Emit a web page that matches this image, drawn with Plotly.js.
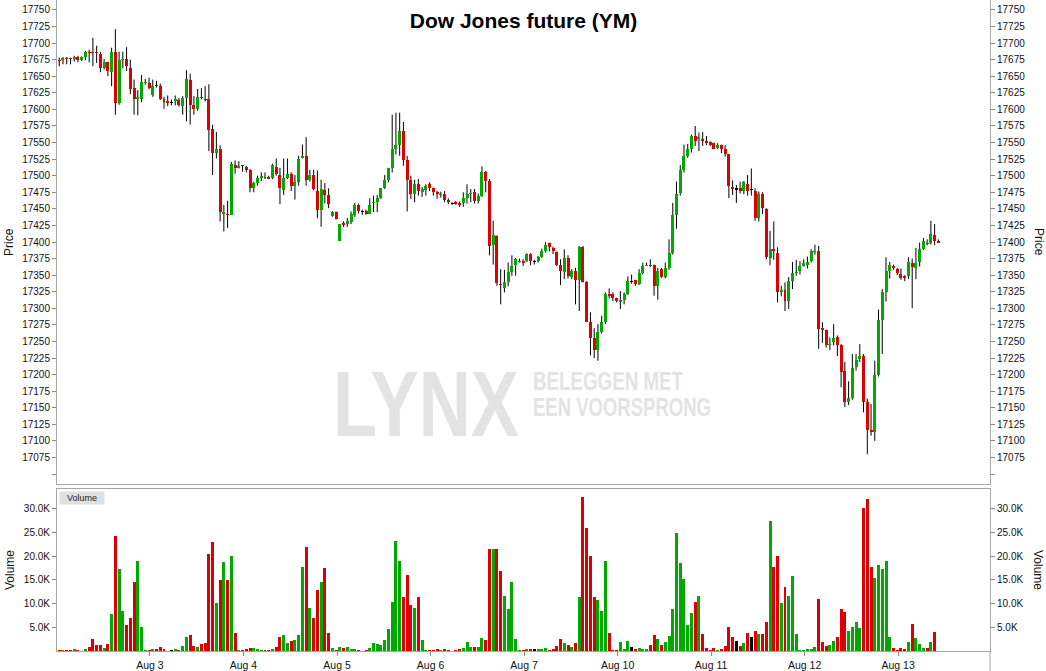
<!DOCTYPE html>
<html><head><meta charset="utf-8">
<script src="https://cdn.plot.ly/plotly-3.0.1.min.js"></script>
<style>html,body{margin:0;padding:0;background:#fff;}#chart{width:1046px;height:671px;}</style>
</head><body><div id="chart"></div>
<script>
// ---- data (hourly bars, index 0..235) ----
const dayLabels = ["Aug 3","Aug 4","Aug 5","Aug 6","Aug 7","Aug 10","Aug 11","Aug 12","Aug 13"];

const openP = [
17675,17675,17677,17677,17676,17679,17674,17679,17687,17687,
17687,17684,17663,17671,17657,17687,17609,17674,17676,17663,
17633,17616,17616,17640,17640,17621,17637,17636,17615,17612,
17611,17613,17614,17605,17617,17645,17607,17601,17619,17616,
17616,17571,17535,17541,17443,17443,17441,17516,17512,17516,
17513,17508,17482,17489,17496,17498,17498,17496,17513,17501,
17479,17496,17502,17485,17491,17527,17530,17493,17501,17477,
17449,17479,17471,17439,17445,17402,17428,17427,17430,17440,
17456,17446,17447,17442,17459,17460,17466,17481,17493,17512,
17541,17547,17568,17523,17493,17472,17487,17476,17479,17487,
17481,17475,17471,17473,17464,17458,17460,17459,17459,17467,
17472,17476,17462,17470,17506,17492,17395,17409,17337,17331,
17339,17355,17365,17370,17371,17372,17382,17370,17372,17378,
17386,17398,17391,17385,17365,17355,17376,17347,17357,17342,
17393,17340,17280,17255,17237,17264,17279,17322,17322,17315,
17310,17312,17321,17340,17342,17336,17354,17364,17366,17365,
17334,17359,17347,17361,17383,17441,17474,17509,17530,17540,
17560,17556,17556,17553,17551,17549,17542,17546,17541,17532,
17483,17480,17481,17477,17487,17479,17477,17436,17472,17450,
17376,17389,17383,17325,17328,17311,17341,17353,17356,17364,
17366,17372,17385,17387,17270,17268,17244,17249,17256,17244,
17205,17159,17164,17212,17224,17228,17158,17117,17114,17199,
17282,17324,17356,17364,17360,17352,17348,17348,17369,17361,
17370,17390,17399,17399,17411,17401];

const highP = [
17678,17679,17679,17678,17681,17681,17680,17688,17690,17708,
17696,17687,17676,17672,17693,17721,17687,17687,17694,17675,
17645,17629,17652,17646,17648,17645,17643,17639,17619,17621,
17615,17621,17617,17620,17659,17654,17620,17631,17632,17635,
17638,17577,17566,17546,17456,17462,17521,17523,17522,17516,
17515,17510,17491,17500,17505,17505,17500,17518,17526,17512,
17526,17526,17505,17501,17530,17547,17558,17509,17509,17508,
17494,17489,17481,17447,17446,17427,17431,17436,17446,17459,
17458,17449,17449,17466,17470,17471,17481,17501,17512,17592,
17595,17595,17581,17530,17500,17494,17495,17483,17487,17490,
17482,17477,17476,17477,17466,17460,17462,17461,17475,17487,
17480,17480,17473,17514,17507,17495,17432,17410,17359,17358,
17369,17380,17376,17375,17374,17383,17383,17373,17379,17390,
17400,17399,17393,17386,17374,17389,17380,17359,17361,17394,
17394,17341,17294,17270,17276,17289,17324,17330,17324,17316,
17326,17324,17348,17351,17343,17359,17369,17369,17374,17366,
17361,17361,17369,17404,17459,17491,17516,17547,17548,17562,
17575,17565,17566,17560,17552,17550,17549,17547,17546,17533,
17493,17486,17491,17492,17501,17511,17481,17476,17475,17451,
17417,17431,17392,17334,17339,17347,17370,17373,17371,17374,
17378,17389,17396,17394,17279,17268,17256,17276,17259,17246,
17219,17190,17231,17231,17246,17231,17164,17156,17221,17298,
17329,17377,17370,17366,17361,17360,17350,17377,17375,17391,
17399,17406,17404,17432,17427,17404];

const lowP = [
17665,17668,17668,17668,17672,17671,17673,17674,17671,17665,
17670,17656,17660,17650,17635,17592,17607,17662,17658,17623,
17592,17591,17611,17637,17630,17619,17633,17614,17601,17605,
17606,17606,17604,17592,17582,17577,17592,17598,17615,17612,
17537,17501,17526,17431,17416,17421,17441,17503,17511,17506,
17505,17475,17475,17485,17492,17495,17495,17495,17500,17457,
17471,17495,17477,17464,17485,17526,17485,17491,17478,17436,
17423,17458,17451,17438,17434,17401,17423,17423,17427,17438,
17443,17441,17441,17442,17445,17445,17465,17480,17490,17505,
17532,17530,17515,17446,17465,17460,17470,17468,17470,17477,
17470,17465,17467,17460,17457,17456,17456,17453,17453,17458,
17460,17458,17458,17468,17475,17380,17366,17334,17306,17324,
17333,17349,17349,17369,17364,17370,17365,17366,17369,17376,
17384,17386,17382,17364,17335,17344,17345,17344,17306,17296,
17339,17279,17229,17225,17221,17262,17276,17315,17311,17309,
17299,17306,17320,17337,17334,17335,17351,17364,17362,17319,
17313,17346,17345,17358,17381,17420,17470,17505,17527,17535,
17545,17537,17545,17546,17545,17540,17540,17534,17529,17466,
17471,17459,17473,17472,17470,17470,17432,17431,17442,17374,
17365,17373,17309,17318,17296,17299,17329,17349,17351,17363,
17360,17369,17381,17239,17248,17241,17237,17244,17228,17181,
17151,17154,17162,17206,17219,17143,17080,17108,17100,17197,
17231,17310,17345,17358,17350,17343,17341,17344,17300,17344,
17363,17388,17395,17396,17395,17399];

const closeP = [
17673,17677,17676,17676,17679,17674,17679,17687,17686,17686,
17686,17662,17672,17658,17687,17609,17675,17676,17665,17631,
17616,17618,17642,17642,17632,17636,17635,17615,17611,17610,
17611,17615,17607,17617,17646,17607,17601,17618,17617,17615,
17569,17535,17541,17445,17445,17441,17518,17512,17515,17514,
17509,17482,17489,17496,17499,17496,17495,17516,17502,17481,
17496,17502,17485,17491,17525,17530,17493,17501,17480,17449,
17480,17471,17458,17445,17435,17427,17425,17431,17442,17456,
17447,17446,17443,17456,17461,17467,17481,17493,17511,17541,
17547,17568,17523,17493,17472,17487,17477,17480,17484,17481,
17476,17472,17473,17464,17460,17458,17457,17456,17467,17472,
17474,17462,17470,17506,17492,17394,17410,17338,17335,17339,
17355,17364,17374,17372,17368,17382,17372,17370,17378,17386,
17396,17393,17386,17366,17356,17376,17348,17357,17342,17393,
17340,17280,17255,17237,17264,17279,17322,17318,17315,17311,
17312,17321,17341,17340,17337,17354,17364,17366,17364,17334,
17356,17347,17361,17383,17441,17473,17509,17529,17541,17560,
17552,17558,17552,17549,17547,17541,17547,17541,17532,17485,
17480,17480,17477,17490,17477,17479,17436,17472,17452,17378,
17389,17386,17324,17327,17311,17341,17354,17355,17364,17368,
17370,17386,17387,17269,17268,17244,17246,17255,17244,17204,
17159,17164,17210,17222,17228,17158,17117,17114,17199,17282,
17325,17356,17366,17361,17354,17346,17345,17370,17363,17368,
17390,17401,17397,17412,17402,17399];

// volume in thousands of contracts
const volumeK = [
0.2,0.2,0.2,0.2,0.4,0.2,0.1,0.4,0.8,2.5,
1.2,1.2,0.6,1.5,7.8,24.2,17.3,8.4,5.5,7.0,
14.6,19.0,5.1,0.2,0.3,0.4,0.4,0.8,0.4,0.1,
0.2,0.4,0.2,1.0,3.0,3.4,1.0,0.8,1.5,1.7,
20.5,23.0,10.1,15.0,18.8,15.0,20.0,3.8,0.3,0.2,
0.4,0.6,0.6,0.4,0.2,0.2,0.2,0.4,0.8,2.9,
3.4,1.6,2.1,2.3,3.4,17.7,22.0,9.0,7.0,12.8,
14.5,17.5,3.8,0.6,0.2,0.8,0.6,0.8,0.4,0.4,
0.2,0.1,0.2,0.6,1.6,1.5,1.2,2.3,4.6,10.3,
23.3,19.0,11.5,16.0,9.8,9.0,11.5,2.4,0.2,0.2,
0.2,0.4,0.3,0.4,0.2,0.1,0.2,0.4,0.6,1.9,
0.9,0.9,0.9,2.7,2.3,21.5,21.5,21.5,16.8,11.6,
8.9,14.5,2.5,0.2,0.2,0.4,0.4,0.4,0.4,0.4,
0.6,0.2,0.4,1.1,2.5,1.7,1.3,0.9,1.7,11.4,
32.6,26.0,20.0,11.4,10.8,8.5,19.1,3.7,0.2,0.2,
1.9,0.4,2.1,0.8,0.4,0.6,0.4,0.4,1.3,3.4,
2.5,1.3,2.0,3.2,8.9,25.0,18.6,15.2,5.4,8.0,
10.4,11.6,3.6,0.6,0.3,0.6,0.2,0.4,1.0,5.1,
3.0,2.1,1.0,1.7,3.8,3.0,4.2,3.5,3.6,6.1,
27.5,17.7,20.1,10.1,13.5,11.6,15.8,3.6,0.2,0.2,
0.4,0.4,0.8,11.0,1.9,1.1,1.3,2.1,3.0,8.9,
8.2,4.2,5.1,6.1,4.9,30.2,32.1,17.7,15.4,18.2,
17.3,19.0,3.0,0.6,0.3,0.6,0.4,1.9,5.7,2.7,
1.5,0.6,0.6,1.9,4.0,0.05];

const volTickVals = [5, 10, 15, 20, 25, 30];
const volTickText = ["5.0K", "10.0K", "15.0K", "20.0K", "25.0K", "30.0K"];

// ---- derived ----
const GREEN = '#00a900', RED = '#dc0000', BLACK = '#000000';
const idx = openP.map((_, i) => i);
const colors = openP.map((o, i) => closeP[i] > o ? GREEN : (closeP[i] < o ? RED : BLACK));
const MIN_BODY = 1.6;
const bodyH = openP.map((o, i) => Math.max(Math.abs(closeP[i] - o), MIN_BODY));
const bodyBase = openP.map((o, i) => (o + closeP[i]) / 2 - bodyH[i] / 2);
const wx = [], wy = [];
idx.forEach(i => { wx.push(i, i, null); wy.push(lowP[i], highP[i], null); });

const BARS_PER_DAY = 25, FIRST_DAY_TICK = 24.25;
const dayTickVals = dayLabels.map((_, k) => FIRST_DAY_TICK + BARS_PER_DAY * k);
const priceTickVals = []; for (let p = 17050; p <= 17750; p += 25) priceTickVals.push(p);
const priceTickText = priceTickVals.map(p => p === 17050 ? '' : String(p));

const FONT = 'Liberation Sans, Arial, Helvetica, sans-serif';
const yTickFont = {family: FONT, size: 10, color: '#111'};
const xTickFont = {family: FONT, size: 10.5, color: '#111'};
const lineC = '#a6a6a6', tickC = '#8a8a8a';
const xRange = [-0.6, 248.8];
const pRange = [17035, 17765];
const vRange = [0, 34.2];
const mainDom = [0.2565, 1], volDom = [0, 0.2488];

const traces = [
  {type: 'scatter', mode: 'lines', x: wx, y: wy, xaxis: 'x', yaxis: 'y',
   line: {color: '#000', width: 1}, hoverinfo: 'skip', showlegend: false},
  {type: 'bar', x: idx, y: bodyH, base: bodyBase, xaxis: 'x', yaxis: 'y3', width: 0.8,
   marker: {color: colors, line: {width: 0}}, showlegend: false},
  {type: 'bar', x: idx, y: volumeK, xaxis: 'x2', yaxis: 'y2', width: 0.8,
   marker: {color: colors, line: {width: 0}}, showlegend: false},
  // empty trace so the right-hand volume axis is drawn
  {type: 'scatter', mode: 'none', x: [], y: [], xaxis: 'x2', yaxis: 'y5', hoverinfo: 'skip', showlegend: false}
];

const yCommon = {range: pRange, tickvals: priceTickVals, ticktext: priceTickText, ticks: 'outside',
  ticklen: 4, tickcolor: tickC, tickfont: yTickFont, showgrid: false, zeroline: false, fixedrange: true};
const vCommon = {range: vRange, tickvals: volTickVals, ticktext: volTickText, ticks: 'outside',
  ticklen: 4, tickcolor: tickC, tickfont: yTickFont, showgrid: false, zeroline: false, fixedrange: true};

const px = v => (v - 57) / 933;      // pixel x -> paper
const py = v => (651 - v) / 651;     // pixel y -> paper
const wm = '#e3e3e3';
const WMFONT = 'Liberation Sans, Arial, sans-serif';
const squeeze = {'LYNX': 186, 'BELEGGEN MET': 150, 'EEN VOORSPRONG': 178};
const layout = {
  width: 1046, height: 671,
  margin: {l: 57, r: 56, t: 0, b: 20, pad: 0},
  paper_bgcolor: '#fff', plot_bgcolor: '#fff',
  showlegend: false, bargap: 0,
  font: {family: FONT, size: 11, color: '#111'},
  title: {text: '<b>Dow Jones future (YM)</b>', font: {family: FONT, size: 21, color: '#000'},
          x: 0.5, xref: 'paper', xanchor: 'center', y: 1 - 21 / 671, yref: 'container', yanchor: 'middle'},
  xaxis: {domain: [0, 1], anchor: 'y', range: xRange, showticklabels: false, ticks: '',
          showline: true, mirror: true, linecolor: lineC, linewidth: 1, showgrid: false, zeroline: false, fixedrange: true},
  yaxis: Object.assign({domain: mainDom, anchor: 'x', side: 'left', showline: true, mirror: true, linecolor: lineC}, yCommon),
  yaxis3: Object.assign({overlaying: 'y', anchor: 'x', side: 'right', showline: false}, yCommon),
  xaxis2: {domain: [0, 1], anchor: 'y2', range: xRange, tickvals: dayTickVals, ticktext: dayLabels,
           ticks: 'outside', ticklen: 4, tickcolor: tickC, tickfont: xTickFont,
           showline: true, mirror: true, linecolor: lineC, showgrid: false, zeroline: false, fixedrange: true},
  yaxis2: Object.assign({domain: volDom, anchor: 'x2', side: 'left', showline: true, mirror: true, linecolor: lineC}, vCommon),
  yaxis5: Object.assign({overlaying: 'y2', anchor: 'x2', side: 'right', showline: false}, vCommon),
  shapes: [
    {type: 'line', xref: 'paper', yref: 'paper', x0: 1, x1: 1, y0: 0, y1: py(671), line: {color: lineC, width: 1}}
  ],
  annotations: [
    {text: 'LYNX', xref: 'paper', yref: 'paper', x: px(426), y: py(404), xanchor: 'center', yanchor: 'middle',
     width: squeeze['LYNX'], showarrow: false, font: {family: WMFONT, size: 93, color: wm, weight: 'bold'}},
    {text: 'BELEGGEN MET', xref: 'paper', yref: 'paper', x: px(608), y: py(381), xanchor: 'center', yanchor: 'middle',
     width: squeeze['BELEGGEN MET'], showarrow: false, font: {family: WMFONT, size: 25, color: wm, weight: 'bold'}},
    {text: 'EEN VOORSPRONG', xref: 'paper', yref: 'paper', x: px(622), y: py(407), xanchor: 'center', yanchor: 'middle',
     width: squeeze['EEN VOORSPRONG'], showarrow: false, font: {family: WMFONT, size: 25, color: wm, weight: 'bold'}},
    {text: 'Volume', xref: 'paper', yref: 'paper', x: px(59), y: py(491), xanchor: 'left', yanchor: 'top',
     showarrow: false, bgcolor: '#e0e0e0', width: 44, height: 12, borderpad: 0,
     font: {family: FONT, size: 9, color: '#222'}},
    {text: 'Price', xref: 'paper', yref: 'paper', x: px(9), y: py(242), xanchor: 'center', yanchor: 'middle',
     textangle: -90, showarrow: false, font: {family: FONT, size: 12, color: '#111'}},
    {text: 'Price', xref: 'paper', yref: 'paper', x: px(1039), y: py(242), xanchor: 'center', yanchor: 'middle',
     textangle: 90, showarrow: false, font: {family: FONT, size: 12, color: '#111'}},
    {text: 'Volume', xref: 'paper', yref: 'paper', x: px(10), y: py(570), xanchor: 'center', yanchor: 'middle',
     textangle: -90, showarrow: false, font: {family: FONT, size: 12, color: '#111'}},
    {text: 'Volume', xref: 'paper', yref: 'paper', x: px(1038), y: py(570), xanchor: 'center', yanchor: 'middle',
     textangle: 90, showarrow: false, font: {family: FONT, size: 12, color: '#111'}}
  ]
};

Plotly.newPlot('chart', traces, layout, {displayModeBar: false, staticPlot: true}).then(gd => {
  // condense the watermark lettering to the narrow width of the original logo
  gd.querySelectorAll('g.annotation text').forEach(t => {
    const w = squeeze[t.textContent];
    if (w) { t.setAttribute('textLength', w); t.setAttribute('lengthAdjust', 'spacingAndGlyphs'); }
  });
});
</script></body></html>
